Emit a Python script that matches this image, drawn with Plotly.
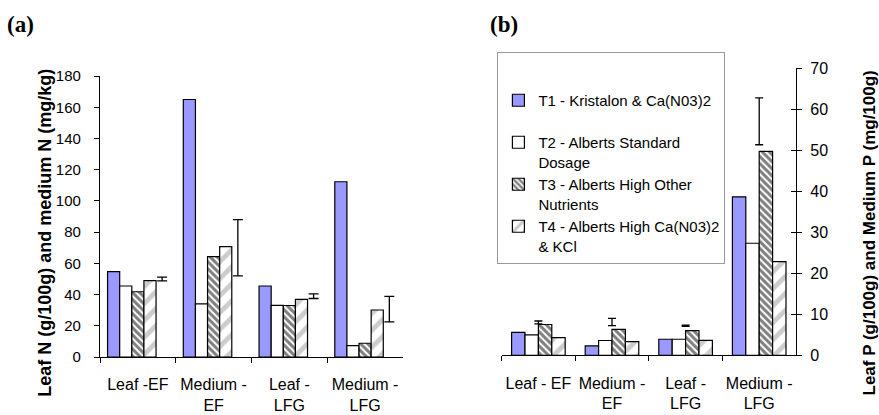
import plotly.graph_objects as go

# ---------------- data ----------------
cat_keys = ["LEF", "MEF", "LLFG", "MLFG"]
ticks_a = ["Leaf -EF", "Medium -<br>EF", "Leaf -<br>LFG", "Medium -<br>LFG"]
ticks_b = ["Leaf - EF", "Medium -<br>EF", "Leaf -<br>LFG", "Medium -<br>LFG"]

series_names = [
    "T1 - Kristalon & Ca(N03)2<br> ",
    "T2 - Alberts Standard<br>Dosage",
    "T3 - Alberts High Other<br>Nutrients",
    "T4 - Alberts High Ca(N03)2<br>& KCl",
]

# panel (a): Leaf N (g/100g) and medium N (mg/kg)
a_T1 = [54.7, 165.0, 45.5, 112.3]
a_T2 = [45.5, 34.0, 33.1, 7.3]
a_T3 = [41.8, 64.3, 33.0, 8.8]
a_T4 = [48.9, 70.7, 36.9, 30.1]
a_err_center = [50.0, 70.0, 39.0, 30.7]
a_err = [1.2, 18.0, 1.5, 8.2]

# panel (b): Leaf P (g/100g) and Medium P (mg/100g)
b_T1 = [5.6, 2.3, 3.9, 38.6]
b_T2 = [4.95, 3.6, 3.9, 27.3]
b_T3 = [7.5, 6.3, 6.0, 49.7]
b_T4 = [4.3, 3.3, 3.65, 22.8]
b_err_center = [8.0, 8.1, 7.2, 57.0]
b_err = [0.35, 0.9, 0.15, 5.7]

# ---------------- styles ----------------
FONT = "Liberation Sans, Arial, sans-serif"
BLUE = "#9999FF"
styles = [
    dict(color=BLUE),
    dict(color="white"),
    dict(color="white", pattern=dict(shape="\\", fgcolor="#000000", size=5, solidity=0.6)),
    dict(color="white", pattern=dict(shape="/", fgcolor="#9a9a9a", size=12, solidity=0.4)),
]

fig = go.Figure()

w_a = 0.16
off_a = [-0.4, -0.24, -0.08, 0.08, 0.24]
for i, vals in enumerate([a_T1, a_T2, a_T3, a_T4]):
    fig.add_trace(go.Bar(
        x=cat_keys, y=vals, name=series_names[i], showlegend=False,
        width=w_a, offset=off_a[i],
        marker=dict(line=dict(color="black", width=1.2), **styles[i]),
        xaxis="x", yaxis="y", hoverinfo="y",
    ))
fig.add_trace(go.Bar(
    x=cat_keys, y=a_err_center, showlegend=False, width=w_a, offset=off_a[4],
    marker=dict(color="rgba(0,0,0,0)", line=dict(width=0)),
    error_y=dict(type="data", array=a_err, color="black", thickness=1.3, width=5),
    xaxis="x", yaxis="y", hoverinfo="skip",
))

w_b = 0.182
off_b = [-0.364, -0.182, 0.0, 0.182]
for i, vals in enumerate([b_T1, b_T2, b_T3, b_T4]):
    fig.add_trace(go.Bar(
        x=cat_keys, y=vals, name=series_names[i], showlegend=True,
        legendgroup=f"g{i}",
        width=w_b, offset=off_b[i],
        marker=dict(line=dict(color="black", width=1.2), **styles[i]),
        xaxis="x2", yaxis="y2", hoverinfo="y",
    ))
fig.add_trace(go.Scatter(
    x=cat_keys, y=b_err_center, mode="markers", showlegend=False,
    marker=dict(size=1, color="rgba(0,0,0,0)"),
    error_y=dict(type="data", array=b_err, color="black", thickness=1.3, width=4),
    xaxis="x2", yaxis="y2", hoverinfo="skip",
))

axis_common = dict(showline=True, linecolor="black", linewidth=1.2, showgrid=False,
                   zeroline=False, tickcolor="black", tickwidth=1.2, automargin=False)

fig.update_layout(
    width=879, height=415,
    margin=dict(l=100, r=83, t=68, b=58),
    paper_bgcolor="white", plot_bgcolor="white",
    barmode="overlay",
    font=dict(family=FONT, size=16, color="black"),
    xaxis=dict(domain=[0, 0.4353], anchor="y", type="category",
               tickmode="array", tickvals=cat_keys, ticktext=ticks_a, tickangle=0,
               tickson="boundaries", ticks="outside", ticklen=5, ticklabelstandoff=13,
               tickfont=dict(size=16), **axis_common),
    yaxis=dict(domain=[0, 0.972], anchor="x", range=[0, 180], dtick=20,
               ticks="outside", ticklen=5, ticklabelstandoff=10,
               tickfont=dict(size=15), **axis_common),
    xaxis2=dict(domain=[0.577, 1.0], anchor="y2", type="category",
                tickmode="array", tickvals=cat_keys, ticktext=ticks_b, tickangle=0,
                tickson="boundaries", ticks="outside", ticklen=5, ticklabelstandoff=13,
                tickfont=dict(size=16), **axis_common),
    yaxis2=dict(domain=[0.006, 1.0], anchor="x2", side="right", range=[0, 70], dtick=10,
                ticks="outside", ticklen=5, ticklabelstandoff=5,
                tickfont=dict(size=16), **axis_common),
    yaxis3=dict(domain=[0.006, 1.0], anchor="x2", overlaying="y2", side="right",
                range=[0, 70], dtick=10, ticks="inside", ticklen=5,
                showticklabels=False, showline=False, showgrid=False, zeroline=False,
                tickcolor="black", tickwidth=1.2, automargin=False),
    legend=dict(x=0.571, y=1.056, xanchor="left", yanchor="top",
                bordercolor="#999999", borderwidth=1, bgcolor="white",
                font=dict(family=FONT, size=15), valign="top",
                traceorder="grouped", tracegroupgap=0, itemwidth=30, maxheight=320,
                title=dict(text=" ", font=dict(size=24))),
    annotations=[
        dict(text="<b>(a)</b>", xref="paper", yref="paper", x=-0.137, y=1.15,
             xanchor="left", yanchor="middle", showarrow=False,
             font=dict(family="Liberation Serif, Times New Roman, serif", size=23)),
        dict(text="<b>(b)</b>", xref="paper", yref="paper", x=0.558, y=1.15,
             xanchor="left", yanchor="middle", showarrow=False,
             font=dict(family="Liberation Serif, Times New Roman, serif", size=23)),
        dict(text="<b>Leaf N (g/100g) and medium N (mg/kg)</b>", xref="paper", yref="paper",
             x=-0.079, y=0.43, textangle=-90, showarrow=False,
             xanchor="center", yanchor="middle", font=dict(family=FONT, size=18)),
        dict(text="<b>Leaf P (g/100g) and Medium P (mg/100g)</b>", xref="paper", yref="paper",
             x=1.106, y=0.43, textangle=-90, showarrow=False,
             xanchor="center", yanchor="middle", font=dict(family=FONT, size=17)),
    ],
)

# invisible trace on yaxis3 so the cross-tick overlay axis is drawn
fig.add_trace(go.Scatter(x=[cat_keys[0]], y=[0], xaxis="x2", yaxis="y3", mode="markers",
                         marker=dict(size=1, color="rgba(0,0,0,0)"), showlegend=False,
                         hoverinfo="skip"))

fig.write_html("out.html", config={"displayModeBar": False},
               post_script="document.body.style.margin='0';document.body.style.padding='0';")
